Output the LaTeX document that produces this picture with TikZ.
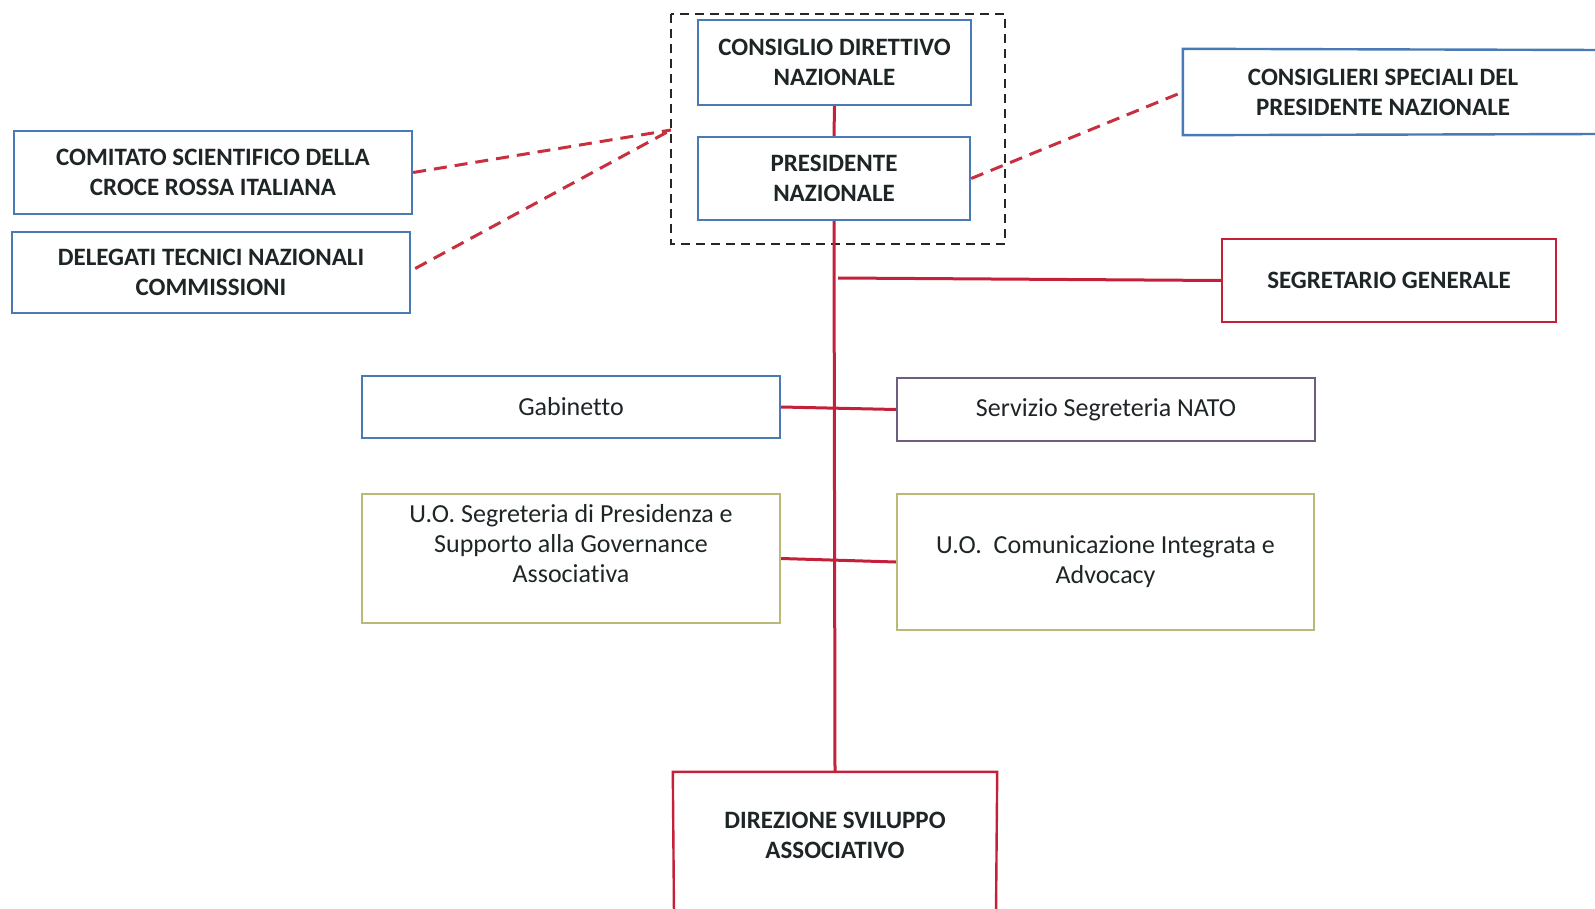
\documentclass[tikz,border=0pt]{standalone}
\usepackage{fontspec}
\setmainfont{Carlito}[Ligatures=NoCommon]
\definecolor{boxblue}{HTML}{4A7AB5}
\definecolor{linered}{HTML}{C4203A}
\definecolor{dashred}{HTML}{C8303F}
\definecolor{olivebox}{HTML}{B9BA78}
\definecolor{purplebox}{HTML}{6E5E7E}
\definecolor{textdark}{HTML}{1E2526}
\tikzset{
  base/.style={rectangle, line width=2.4pt, align=center, inner sep=0pt, text=textdark,
     font=\fontsize{26}{30}\selectfont},
  titlebox/.style={base, font=\fontsize{25}{30}\selectfont\bfseries},
  bluebox/.style={draw=boxblue},
  redbox/.style={draw=linered},
  olive/.style={draw=olivebox},
  purp/.style={draw=purplebox},
  link/.style={draw=linered, line width=3pt},
  dlink/.style={draw=dashred, line width=3pt, dash pattern=on 13pt off 8pt},
  groupbox/.style={draw=black!85, line width=2.6pt, dash pattern=on 9pt off 6pt}
}
\begin{document}
\begin{tikzpicture}[x=1pt,y=-1pt]
\useasboundingbox (0,0) rectangle (1595,909);
\clip (0,0) rectangle (1595,909);
% group box
\draw[groupbox] (671,14) rectangle (1005,244);
\coordinate (gleft) at (671,130);
% top boxes
\node[titlebox,bluebox,minimum width=273pt,minimum height=85pt] (cdn) at (834.5,62.5) {CONSIGLIO DIRETTIVO\\NAZIONALE};
\node[titlebox,bluebox,minimum width=272pt,minimum height=83pt] (pres) at (834,178.5) {PRESIDENTE\\NAZIONALE};
\node[titlebox,bluebox,minimum width=398pt,minimum height=83pt] (com) at (213,172.5) {COMITATO SCIENTIFICO DELLA\\CROCE ROSSA ITALIANA};
\node[titlebox,bluebox,minimum width=398pt,minimum height=81pt] (del) at (211,272.5) {DELEGATI TECNICI NAZIONALI\\COMMISSIONI};
\node[titlebox,minimum width=398pt,minimum height=84pt] (cons) at (1383,92) {CONSIGLIERI SPECIALI DEL\\PRESIDENTE NAZIONALE};
\draw[line width=2.4pt,boxblue] (1600,50) -- (cons.north west) -- (cons.south west) -- (1600,134);
\node[titlebox,redbox,minimum width=334pt,minimum height=83pt] (seg) at (1389,280.5) {SEGRETARIO GENERALE};
% middle boxes
\node[base,bluebox,minimum width=418pt,minimum height=62pt] (gab) at (571,407) {Gabinetto};
\node[base,purp,minimum width=418pt,minimum height=63pt] (nato) at (1106,409.5) {Servizio Segreteria NATO};
\node[base,olive,minimum width=418pt,minimum height=129pt,text depth=30pt] (uoseg) at (571,558.5) {U.O. Segreteria di Presidenza e\\Supporto alla Governance\\Associativa};
\node[base,olive,minimum width=417pt,minimum height=136pt] (uocom) at (1105.5,562) {U.O.\ \ Comunicazione Integrata e\\Advocacy};
% bottom box
\node[titlebox,minimum width=322pt,minimum height=124pt] (dir) at (835,835) {DIREZIONE SVILUPPO\\ASSOCIATIVO};
\draw[line width=2.4pt,linered] (674,915) -- (dir.north west) -- (dir.north east) -- (996,915);
% connectors
\draw[link] (cdn.south) -- (pres.north);
\draw[link] (pres.south) -- (dir.north);
\coordinate (jseg) at (838,278);
\draw[link] (jseg) -- (seg.west);
\draw[link] (gab.east) -- (nato.west);
\draw[link] (uoseg.east) -- (uocom.west);
% dashed links
\draw[dlink] (com.east) -- (gleft);
\draw[dlink] (del.east) ++(4,-4) -- (gleft);
\draw[dlink] (pres.east) -- (cons.west);
\end{tikzpicture}
\end{document}
